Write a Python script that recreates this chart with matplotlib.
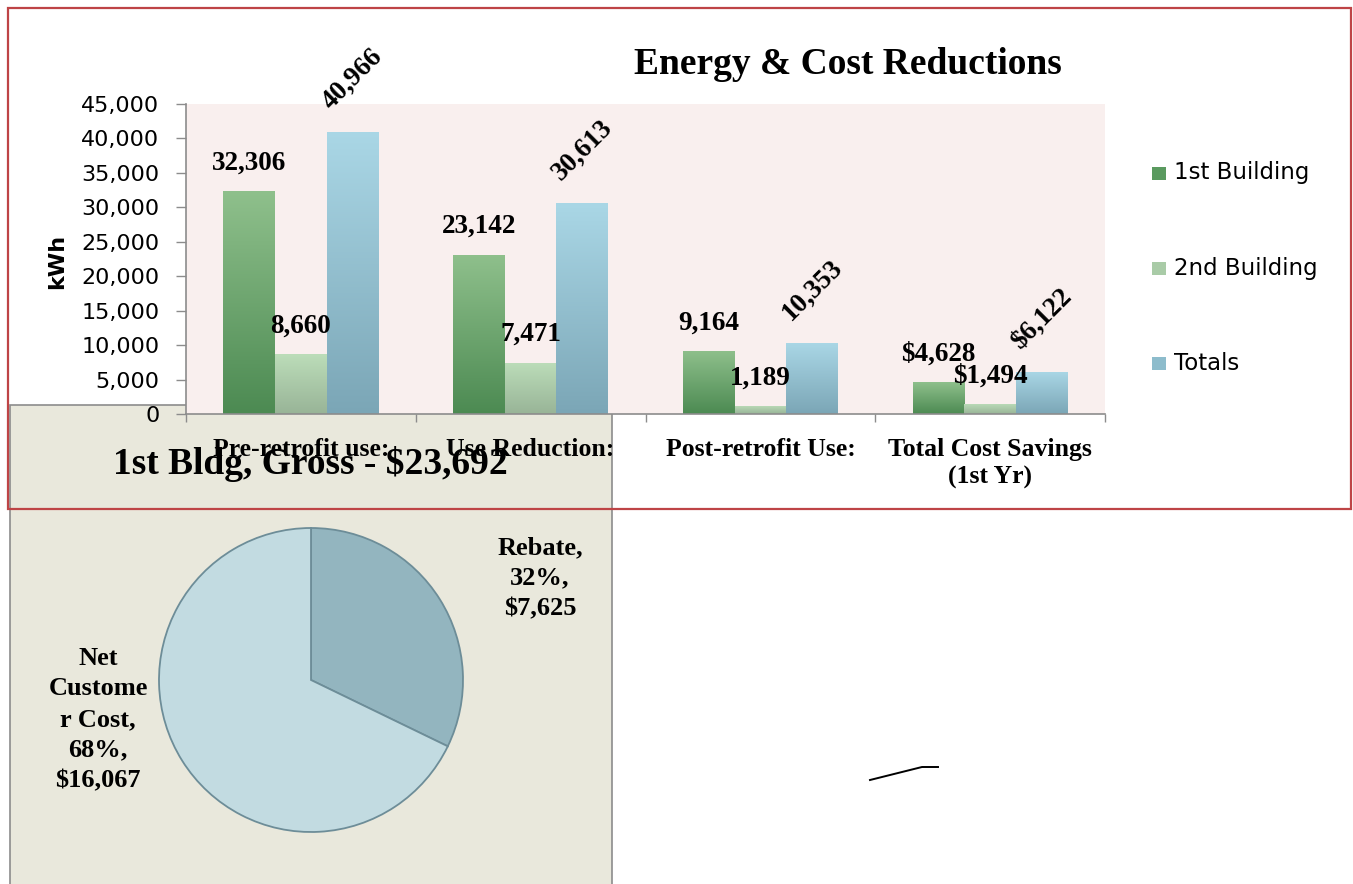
import matplotlib
matplotlib.use("Agg")
import matplotlib.pyplot as plt
import numpy as np
from matplotlib.colors import LinearSegmentedColormap
from matplotlib.patches import Rectangle
from matplotlib.lines import Line2D

# ---------------- data ----------------
categories = ["Pre-retrofit use:", "Use Reduction:", "Post-retrofit Use:", "Total Cost Savings\n(1st Yr)"]
series_names = ["1st Building", "2nd Building", "Totals"]
bldg1 = [32306, 23142, 9164, 4628]
bldg2 = [8660, 7471, 1189, 1494]
totals = [40966, 30613, 10353, 6122]
is_currency = [False, False, False, True]
yticks = [0, 5000, 10000, 15000, 20000, 25000, 30000, 35000, 40000, 45000]

pie_title = "1st Bldg, Gross - $23,692"
pie_names = [["Rebate"], ["Net", "Custome", "r Cost"]]
pie_values = [7625, 16067]

# ---------------- helpers ----------------
W, H = 1353, 884
def fx(px):
    return px / W
def fy(py):
    return 1 - py / H

SERIF = ["Liberation Serif", "DejaVu Serif"]
SANS = ["DejaVu Sans"]

fig = plt.figure(figsize=(W / 100, H / 100), dpi=100)
fig.patch.set_facecolor("white")

# ---------------- pie panel (underneath) ----------------
panel = Rectangle((fx(10), fy(900)), (612 - 10) / W, (900 - 405) / H,
                  transform=fig.transFigure, facecolor="#E9E8DC",
                  edgecolor="#8C8C8C", linewidth=1.2, zorder=0.1)
fig.add_artist(panel)

axp = fig.add_axes([fx(311 - 152), fy(680 + 152), 304 / W, 304 / H])
axp.set_zorder(0.2)
axp.patch.set_visible(False)
axp.pie(pie_values, startangle=90, counterclock=False,
        colors=["#93B5BF", "#C2DBE1"],
        wedgeprops=dict(edgecolor="#6D8D98", linewidth=1.3))
axp.set_xlim(-1, 1)
axp.set_ylim(-1, 1)
axp.set_aspect("equal")
axp.axis("off")

total_pie = sum(pie_values)
label_pos = [(1.507, 0.67), (-1.40, -0.26)]
for names, v, (lx, ly) in zip(pie_names, pie_values, label_pos):
    pct = round(100 * v / total_pie)
    txt = "\n".join(names) + ",\n" + f"{pct}%,\n" + f"${v:,}"
    axp.text(lx, ly, txt, ha="center", va="center", fontfamily=SERIF,
             fontweight="bold", fontsize=19, linespacing=1.42, clip_on=False)

fig.text(fx(310), fy(464), pie_title, ha="center", va="center",
         fontfamily=SERIF, fontweight="bold", fontsize=27, zorder=0.3)

# ---------------- bar chart (on top) ----------------
ax = fig.add_axes([fx(186), fy(414), (1105 - 186) / W, (414 - 104) / H])
ax.set_zorder(1)
ax.set_facecolor("#F9EFEE")

x = np.arange(len(categories))
bw = 0.225

grad = np.linspace(0, 1, 256).reshape(-1, 1)

def grad_bars(xs, vals, c_bot, c_top):
    bars = ax.bar(xs, vals, bw, color="none", edgecolor="none", zorder=2)
    cmap = LinearSegmentedColormap.from_list("g", [c_bot, c_top])
    for b in bars:
        x0, y0 = b.get_x(), b.get_y()
        im = ax.imshow(grad, extent=[x0, x0 + b.get_width(), y0, y0 + b.get_height()],
                       origin="lower", aspect="auto", cmap=cmap, zorder=2,
                       interpolation="bilinear")
        im.set_clip_path(b)
    return bars

series = [bldg1, bldg2, totals]
offsets = [-bw, 0, bw]
grads = [("#4C8A52", "#8FC08C"), ("#98B497", "#BCDDB9"), ("#7BA6B6", "#AAD7E6")]
legend_cols = ["#5A9A5F", "#A9CBA7", "#8DBCCC"]

for vals, off, (cb, ct) in zip(series, offsets, grads):
    grad_bars(x + off, vals, cb, ct)

def fmt(v, cur):
    return (f"${v:,}" if cur else f"{v:,}")

for si, (vals, off) in enumerate(zip(series, offsets)):
    for ci, v in enumerate(vals):
        if si == 2:
            ax.annotate(fmt(v, is_currency[ci]), xy=(x[ci] + off, v), xytext=(0, 53),
                        textcoords="offset pixels", ha="center", va="center",
                        rotation=45, fontfamily=SERIF, fontweight="bold", fontsize=19.5,
                        annotation_clip=False, zorder=5)
        else:
            ax.annotate(fmt(v, is_currency[ci]), xy=(x[ci] + off, v), xytext=(0, 28),
                        textcoords="offset pixels", ha="center", va="center",
                        fontfamily=SERIF, fontweight="bold", fontsize=19.5,
                        annotation_clip=False, zorder=5)

ax.set_xlim(-0.5, len(categories) - 0.5)
ax.set_ylim(0, 45000)
ax.set_yticks(yticks)
ax.set_yticklabels([f"{t:,}" for t in yticks], fontfamily=SANS, fontsize=16)
ax.tick_params(axis="y", direction="out", length=7.2, width=1, color="#8C8C8C", pad=12)

ax.set_xticks(np.arange(len(categories) + 1) - 0.5)
ax.set_xticklabels([])
ax.tick_params(axis="x", which="major", direction="out", length=6, width=1, color="#8C8C8C")
ax.set_xticks(x, minor=True)
ax.set_xticklabels(categories, minor=True, fontfamily=SERIF, fontweight="bold",
                   fontsize=18.5, linespacing=1.3)
ax.tick_params(axis="x", which="minor", length=0, pad=17)

for s in ["top", "right"]:
    ax.spines[s].set_visible(False)
for s in ["left", "bottom"]:
    ax.spines[s].set_color("#8C8C8C")
    ax.spines[s].set_linewidth(1.2)

# title & axis label
fig.text(fx(848), fy(65), "Energy & Cost Reductions", ha="center", va="center",
         fontfamily=SERIF, fontweight="bold", fontsize=27, zorder=2)
fig.text(fx(57), fy(261), "kWh", rotation=90, ha="center", va="center",
         fontfamily=SANS, fontweight="bold", fontsize=16, zorder=2)

# legend (manual)
leg_y = [173, 268, 363]
for name, col, yy in zip(series_names, legend_cols, leg_y):
    fig.add_artist(Rectangle((fx(1152), fy(yy + 7)), 14 / W, 13 / H,
                             transform=fig.transFigure, facecolor=col,
                             edgecolor="none", zorder=2))
    fig.text(fx(1174), fy(yy), name, ha="left", va="center",
             fontfamily=SANS, fontsize=16.5, zorder=2)

# red outer frame of bar chart
fig.add_artist(Rectangle((fx(8), fy(509)), (1351 - 8) / W, (509 - 8) / H,
                         transform=fig.transFigure, facecolor="none",
                         edgecolor="#BE4446", linewidth=1.6, zorder=3))

# stray connector line
fig.add_artist(Line2D([fx(870), fx(922), fx(938)], [fy(780), fy(767), fy(767)],
                      transform=fig.transFigure, color="black", linewidth=1.4, zorder=3))

fig.savefig("out.png", dpi=100)
